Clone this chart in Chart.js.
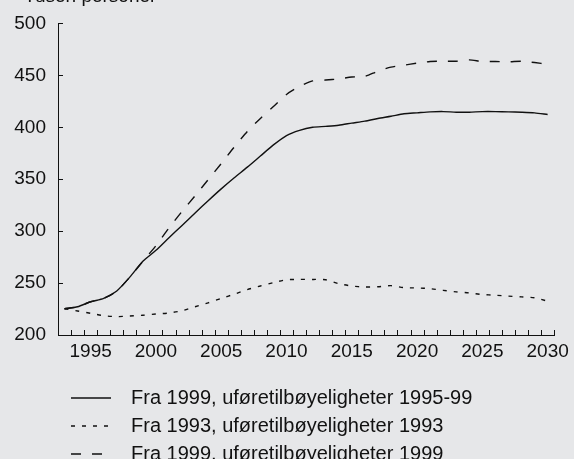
<!DOCTYPE html>
<html><head><meta charset="utf-8">
<script src="https://cdn.jsdelivr.net/npm/chart.js@4"></script>
<style>html,body{margin:0;padding:0;background:#e6e7e9;overflow:hidden}#wrap{width:574px;height:459px;position:relative}</style>
</head><body><div id="wrap"><canvas id="c" width="574" height="459"></canvas></div>
<script>
const years = [1993,1994,1995,1996,1997,1998,1999,2000,2001,2002,2003,2004,2005,2006,2007,2008,2009,2010,2011,2012,2013,2014,2015,2016,2017,2018,2019,2020,2021,2022,2023,2024,2025,2026,2027,2028,2029,2030];
const rates9599 = [225.3,227.2,232,235.2,242.4,255.7,270.9,281.5,293.7,305.5,317.5,329.3,340.7,351.4,361.6,372.3,383,392,397,400,400.9,402,404,405.9,408.5,410.6,413,413.9,414.8,415.1,414.5,414.5,415.1,415.1,414.8,414.5,413.9,412.3];
const rates1993 = [225.3,223.1,220.9,218.6,217.7,218.3,219,220.2,221.2,223.4,227.2,231,235.2,239.3,243.7,247.2,250.4,253.2,253.5,253.5,253.2,249.4,247.2,246.2,246.5,247.5,245.6,245.3,244.6,243,241.5,240.5,239,238.3,237.4,236.7,235.8,232.6];
const rates1999 = [225.3,227.2,232,235.2,242.4,255.7,270.9,286,303,319,334,349.5,365,381,396,408.5,420,431.6,439.3,444.6,445.5,446.5,448.4,449,454,457.9,459.8,461.7,463.3,463.6,463.6,464.9,463.3,463.3,463,463.6,462.3,460.7];
const seriesLabels = ["Fra 1999, uføretilbøyeligheter 1995-99","Fra 1993, uføretilbøyeligheter 1993","Fra 1999, uføretilbøyeligheter 1999"];
const yTicks = [200,250,300,350,400,450,500];
const unitLabel = "Tusen personer";

const FONT = "'Liberation Sans', Arial, sans-serif";
const INK = '#111';

const deco = {
  id: 'deco',
  beforeDraw(chart) {
    const ctx = chart.ctx;
    ctx.save();
    ctx.fillStyle = '#e6e7e9';
    ctx.fillRect(0, 0, chart.width, chart.height);
    ctx.restore();
  },
  afterDraw(chart) {
    const ctx = chart.ctx;
    const xs = chart.scales.x, ys = chart.scales.y;
    const a = chart.chartArea;
    ctx.save();
    ctx.strokeStyle = INK;
    ctx.lineWidth = 1;
    // x ticks (inside)
    const w = xs.getPixelForValue(1) - xs.getPixelForValue(0);
    ctx.beginPath();
    for (let i = 0; i < years.length; i++) {
      const px = Math.round(xs.getPixelForValue(i) + w / 2) + 0.5;
      ctx.moveTo(px, a.bottom);
      ctx.lineTo(px, a.bottom - 5);
    }
    // y ticks (inside)
    yTicks.forEach(v => {
      if (v === 200) return;
      const py = Math.round(ys.getPixelForValue(v)) + 0.5;
      ctx.moveTo(a.left, py);
      ctx.lineTo(a.left + 5, py);
    });
    ctx.stroke();
    // unit label (cut off at top)
    ctx.fillStyle = INK;
    ctx.font = '19px ' + FONT;
    ctx.textBaseline = 'alphabetic';
    ctx.textAlign = 'left';
    ctx.fillText(unitLabel, 24, 2);
    // legend
    const rows = [398, 426, 454];
    chart.data.datasets.forEach((ds, i) => {
      const y = rows[i];
      ctx.beginPath();
      ctx.setLineDash(ds.borderDash || []);
      ctx.lineWidth = 1.3;
      ctx.moveTo(71, y);
      ctx.lineTo(111, y);
      ctx.stroke();
      ctx.setLineDash([]);
      ctx.font = '20px ' + FONT;
      ctx.textBaseline = 'middle';
      ctx.fillText(ds.label, 131, y);
    });
    ctx.restore();
  }
};

new Chart(document.getElementById('c'), {
  type: 'line',
  data: {
    labels: years.map(String),
    datasets: [
      { label: seriesLabels[0], data: rates9599, borderColor: INK, borderWidth: 1.4, borderDash: [], pointRadius: 0, tension: 0.25, fill: false },
      { label: seriesLabels[1], data: rates1993, borderColor: INK, borderWidth: 1.4, borderDash: [4, 7], pointRadius: 0, tension: 0.25, fill: false },
      { label: seriesLabels[2], data: rates1999, borderColor: INK, borderWidth: 1.4, borderDash: [10, 11], pointRadius: 0, tension: 0.25, fill: false }
    ]
  },
  options: {
    responsive: false,
    animation: false,
    devicePixelRatio: 1,
    layout: { padding: { top: 22, right: 18, bottom: 94, left: 0 } },
    plugins: { legend: { display: false }, tooltip: { enabled: false }, title: { display: false } },
    scales: {
      x: {
        type: 'category',
        offset: true,
        grid: { display: false, drawTicks: false, tickLength: 0 },
        border: { display: true, color: INK, width: 1 },
        ticks: {
          autoSkip: false, maxRotation: 0, minRotation: 0, padding: 5,
          color: INK, font: { family: FONT, size: 19 },
          callback: function(v, i) { return years[i] % 5 === 0 ? String(years[i]) : ''; }
        },
        afterFit(s) { s.height = 30; }
      },
      y: {
        min: 200, max: 500,
        grid: { display: false, drawTicks: false, tickLength: 0 },
        border: { display: true, color: INK, width: 1 },
        afterBuildTicks(s) { s.ticks = yTicks.map(v => ({ value: v })); },
        ticks: { padding: 12, color: INK, font: { family: FONT, size: 19 } },
        afterFit(s) { s.width = 58; }
      }
    }
  },
  plugins: [deco]
});
</script></body></html>
